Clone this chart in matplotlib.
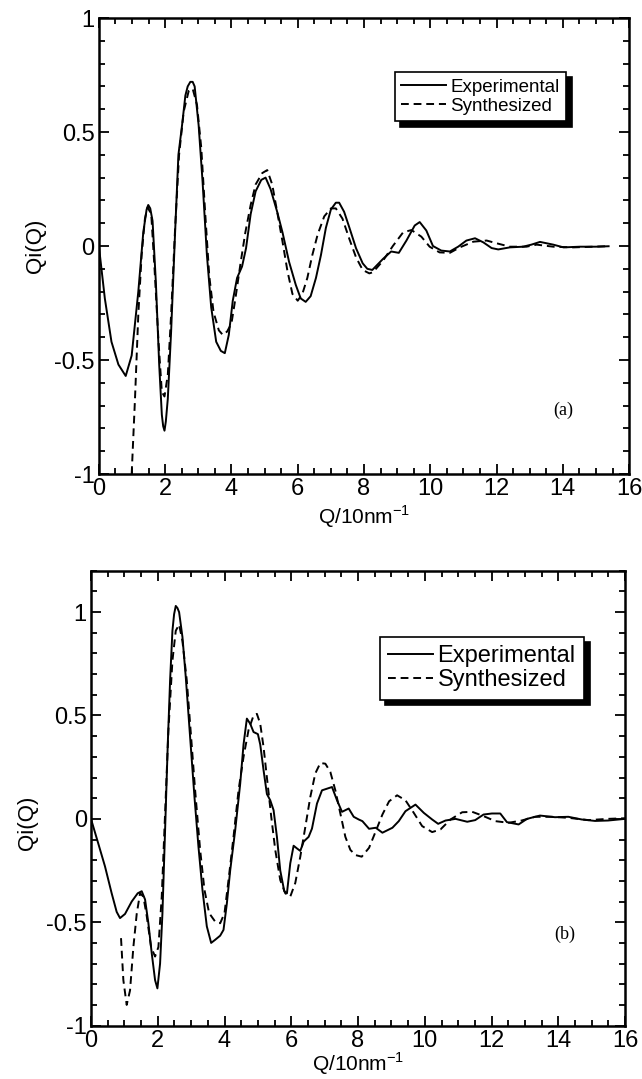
"""Qi(Q): experimental vs synthesized, two panels (a) and (b)."""

import matplotlib
matplotlib.use("Agg")
import matplotlib.pyplot as plt
from matplotlib.ticker import MultipleLocator

plt.rcParams["font.family"] = ["Liberation Sans", "DejaVu Sans"]
plt.rcParams["axes.unicode_minus"] = False

# --- panel (a) ---
q_exp_a = [0.0, 0.18, 0.38, 0.59, 0.81, 0.99, 1.19, 1.34, 1.44, 1.49, 1.55, 1.62,
           1.72, 1.82, 1.9, 1.94, 1.98, 2.02, 2.08, 2.18, 2.3, 2.4, 2.51, 2.61,
           2.68, 2.76, 2.83, 2.89, 3.01, 3.13, 3.26, 3.39, 3.54, 3.68, 3.8, 3.92,
           4.04, 4.17, 4.32, 4.44, 4.58, 4.73, 4.9, 5.03, 5.18, 5.38,
           5.54, 5.74, 5.94, 6.09, 6.24, 6.39, 6.55, 6.7, 6.85, 7.0,
           7.15, 7.25, 7.4, 7.56, 7.76, 7.96, 8.1, 8.25, 8.57, 8.82,
           9.05, 9.28, 9.53, 9.68, 9.88, 10.08, 10.33, 10.59, 10.84, 11.09,
           11.35, 11.6, 11.85, 12.05, 12.4, 12.8, 13.05, 13.31, 13.71, 14.02,
           14.52, 15.0, 15.38]
qi_exp_a = [0.0, -0.23, -0.42, -0.52, -0.57, -0.48, -0.2, 0.06, 0.16, 0.18, 0.165, 0.11,
            -0.16, -0.52, -0.74, -0.79, -0.81, -0.77, -0.67, -0.375, 0.06, 0.4, 0.53, 0.66,
            0.70, 0.72, 0.72, 0.70, 0.53, 0.28, -0.04, -0.27, -0.42, -0.46, -0.47, -0.39,
            -0.24, -0.14, -0.09, -0.01, 0.14, 0.24, 0.29, 0.30, 0.25, 0.15,
            0.06, -0.07, -0.17, -0.23, -0.245, -0.22, -0.14, -0.04, 0.08, 0.16,
            0.19, 0.19, 0.15, 0.08, -0.01, -0.076, -0.1, -0.105, -0.057, -0.024,
            -0.03, 0.024, 0.09, 0.105, 0.068, 0.0, -0.02, -0.024, -0.003, 0.024,
            0.034, 0.016, -0.009, -0.015, -0.006, -0.003, 0.006, 0.018, 0.006, -0.006,
            -0.003, -0.003, -0.001]

q_syn_a = [0.99, 1.09, 1.19, 1.29, 1.39, 1.47, 1.58, 1.68, 1.8, 1.9,
           1.98, 2.08, 2.18, 2.3, 2.42, 2.56, 2.71, 2.83, 2.96, 3.09,
           3.21, 3.33, 3.46, 3.62, 3.74, 3.87, 4.0, 4.12, 4.27, 4.42,
           4.58, 4.73, 4.93, 5.08, 5.23, 5.38, 5.54, 5.69, 5.84, 6.0,
           6.14, 6.29, 6.44, 6.6, 6.8, 7.0, 7.15, 7.35, 7.56, 7.76,
           7.96, 8.16, 8.27, 8.57, 8.87, 9.18, 9.43, 9.73, 9.98, 10.28,
           10.59, 10.89, 11.3, 11.7, 12.0, 12.4, 12.9, 13.21, 13.71, 14.32,
           15.33]
qi_syn_a = [-1.0, -0.67, -0.3, -0.04, 0.12, 0.17, 0.14, -0.1, -0.42, -0.64,
            -0.66, -0.565, -0.3, 0.077, 0.4, 0.59, 0.68, 0.69, 0.62, 0.43,
            0.14, -0.13, -0.29, -0.37, -0.39, -0.375, -0.34, -0.23, -0.08, 0.06,
            0.18, 0.27, 0.32, 0.333, 0.27, 0.15, 0.02, -0.11, -0.21, -0.24,
            -0.21, -0.14, -0.04, 0.05, 0.13, 0.165, 0.165, 0.12, 0.03, -0.05,
            -0.105, -0.12, -0.115, -0.065, 0.0, 0.06, 0.07, 0.041, -0.003, -0.028,
            -0.03, -0.006, 0.019, 0.024, 0.012, -0.003, -0.003, 0.006, -0.003, -0.006,
            -0.001]

# --- panel (b) ---
q_exp_b = [0.0, 0.22, 0.42, 0.62, 0.77, 0.87, 1.02, 1.22, 1.4, 1.52,
           1.62, 1.72, 1.82, 1.92, 1.99, 2.07, 2.14, 2.22, 2.3, 2.37,
           2.44, 2.49, 2.54, 2.59, 2.64, 2.74, 2.84, 2.97, 3.1, 3.22, 3.34, 3.47,
           3.6, 3.72, 3.87, 3.97, 4.07, 4.17, 4.32, 4.47, 4.57, 4.67,
           4.77, 4.87, 5.0, 5.07, 5.17, 5.27, 5.37, 5.47, 5.57, 5.67,
           5.79, 5.87, 5.97, 6.07, 6.17, 6.27, 6.37, 6.52, 6.62, 6.77,
           6.92, 7.07, 7.22, 7.37, 7.52, 7.72, 7.87, 8.02, 8.13, 8.33,
           8.53, 8.73, 9.03, 9.22, 9.42, 9.72, 9.97, 10.22, 10.4, 10.62,
           10.92, 11.27, 11.51, 11.76, 12.01, 12.26, 12.46, 12.81, 13.06, 13.45,
           13.9, 14.3, 14.7, 15.1, 15.49, 16.0]
qi_exp_b = [0.0, -0.12, -0.23, -0.36, -0.45, -0.48, -0.46, -0.40, -0.36, -0.35,
            -0.39, -0.505, -0.65, -0.78, -0.82, -0.70, -0.46, -0.055, 0.36, 0.67,
            0.91, 0.99, 1.03, 1.02, 1.0, 0.88, 0.685, 0.395, 0.106, -0.135, -0.344, -0.52,
            -0.60, -0.585, -0.565, -0.537, -0.41, -0.25, -0.055, 0.17, 0.36, 0.485,
            0.46, 0.42, 0.41, 0.36, 0.235, 0.12, 0.09, 0.042, -0.087, -0.25,
            -0.35, -0.36, -0.215, -0.13, -0.143, -0.155, -0.11, -0.087, -0.047, 0.074,
            0.138, 0.146, 0.154, 0.09, 0.034, 0.05, 0.01, -0.003, -0.011, -0.048,
            -0.043, -0.067, -0.043, -0.011, 0.037, 0.069, 0.029, -0.003, -0.024, -0.008,
            0.0, -0.014, -0.006, 0.021, 0.026, 0.026, -0.016, -0.027, 0.0, 0.016,
            0.008, 0.01, -0.003, -0.01, -0.008, 0.0]

q_syn_b = [0.9, 0.97, 1.07, 1.17, 1.27, 1.37, 1.47, 1.57, 1.67, 1.8,
           1.92, 2.02, 2.12, 2.22, 2.32, 2.44, 2.54, 2.64, 2.74, 2.87,
           3.0, 3.12, 3.27, 3.4, 3.54, 3.72, 3.87, 4.0, 4.12, 4.27,
           4.42, 4.57, 4.72, 4.87, 4.97, 5.07, 5.17, 5.27, 5.4, 5.52,
           5.67, 5.82, 5.97, 6.12, 6.27, 6.42, 6.57, 6.72, 6.87, 7.02,
           7.17, 7.32, 7.47, 7.62, 7.77, 7.92, 8.11, 8.33, 8.53, 8.73,
           8.93, 9.17, 9.42, 9.67, 9.92, 10.22, 10.47, 10.77, 11.12, 11.42,
           11.72, 12.11, 12.51, 12.9, 13.3, 13.8, 14.3, 14.9, 15.49, 16.0]
qi_syn_b = [-0.577, -0.78, -0.9, -0.83, -0.62, -0.46, -0.36, -0.376, -0.47, -0.62,
            -0.666, -0.62, -0.376, 0.026, 0.43, 0.765, 0.91, 0.94, 0.86, 0.67,
            0.395, 0.138, -0.15, -0.344, -0.456, -0.497, -0.505, -0.456, -0.296, -0.087,
            0.138, 0.3, 0.43, 0.5, 0.508, 0.46, 0.347, 0.2, 0.01, -0.15,
            -0.296, -0.36, -0.376, -0.31, -0.183, -0.04, 0.106, 0.22, 0.27, 0.267,
            0.227, 0.138, 0.026, -0.087, -0.15, -0.175, -0.183, -0.14, -0.06, 0.021,
            0.085, 0.114, 0.09, 0.029, -0.035, -0.064, -0.051, -0.003, 0.032, 0.034,
            0.016, -0.011, -0.019, -0.008, 0.01, 0.01, 0.005, -0.006, 0.0, 0.003]

fig = plt.figure(figsize=(6.42, 10.79), dpi=100)
ax_a = fig.add_axes([0.154, 0.5607, 0.826, 0.4226])
ax_b = fig.add_axes([0.1417, 0.0495, 0.832, 0.4215])

panels = [
    (ax_a, q_exp_a, qi_exp_a, q_syn_a, qi_syn_a, (-1, 1), "(a)", (14.0, -0.72),
     13.5, (0.881, 0.882), 2.4, 0.5, 2),
    (ax_b, q_exp_b, qi_exp_b, q_syn_b, qi_syn_b, (-1, 1.2), "(b)", (14.2, -0.56),
     17, (0.923, 0.855), 1.9, 0.445, -1),
]

for ax, qe, ye, qs, ys, ylim, tag, tagpos, legfs, legpos, hlen, ylab_y, xpad in panels:
    ax.plot(qe, ye, color="black", lw=1.4, label="Experimental")
    ax.plot(qs, ys, color="black", lw=1.4, ls=(0, (4, 2.5)), label="Synthesized")
    ax.set_xlim(0, 16)
    ax.set_ylim(*ylim)
    ax.xaxis.set_major_locator(MultipleLocator(2))
    ax.xaxis.set_minor_locator(MultipleLocator(0.5))
    ax.yaxis.set_minor_locator(MultipleLocator(0.1))
    ax.set_yticks([-1, -0.5, 0, 0.5, 1])
    ax.set_yticklabels(["-1", "-0.5", "0", "0.5", "1"])
    ax.tick_params(which="both", direction="in", top=True, right=True,
                   width=1.3, labelsize=17, pad=3)
    ax.tick_params(which="major", length=7)
    ax.tick_params(which="minor", length=4)
    for s in ax.spines.values():
        s.set_linewidth(1.8)
    ax.set_xlabel(r"Q/10nm$^{\mathregular{-1}}$", fontsize=15, labelpad=xpad)
    ax.set_ylabel("Qi(Q)", fontsize=16)
    ax.yaxis.set_label_coords(-0.1, ylab_y)
    ax.text(tagpos[0], tagpos[1], tag, fontsize=13, family="Liberation Serif",
            ha="center", va="center")
    leg = ax.legend(loc="upper right", bbox_to_anchor=legpos, fontsize=legfs,
                    frameon=True, fancybox=False, borderpad=0.35,
                    handlelength=hlen, handletextpad=0.2, labelspacing=0.1,
                    borderaxespad=0,
                    shadow={"color": "black", "alpha": 1.0, "ox": 4, "oy": -4})
    leg.get_frame().set_edgecolor("black")
    leg.get_frame().set_linewidth(1.2)

fig.savefig("out.png", dpi=100)
print("Saved: out.png")
